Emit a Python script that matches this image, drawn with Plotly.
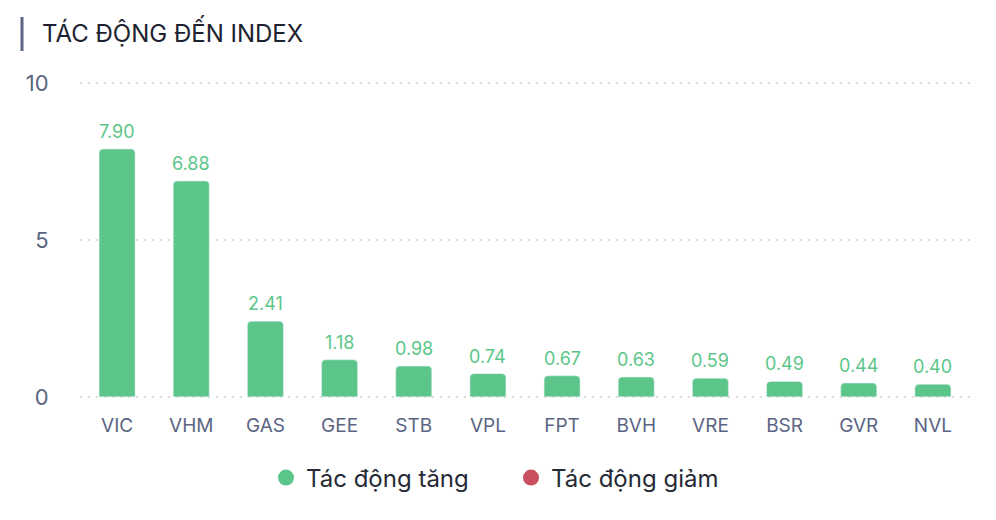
import plotly.graph_objects as go

tickers = ["VIC", "VHM", "GAS", "GEE", "STB", "VPL", "FPT", "BVH", "VRE", "BSR", "GVR", "NVL"]
impact_up = [7.90, 6.88, 2.41, 1.18, 0.98, 0.74, 0.67, 0.63, 0.59, 0.49, 0.44, 0.40]
y_ticks = [0, 5, 10]

GREEN = "#5cc68a"
RED = "#c9505f"
SLATE = "#5b6583"
FONT = "Inter"

# page body has an 8px margin, so the figure is 8px smaller than the window
W, H = 988, 512
L, R, T, B = 72, 26, 72, 120
plot_h = H - T - B
plot_w = W - L - R

fig = go.Figure()
fig.add_trace(
    go.Bar(
        x=tickers,
        y=impact_up,
        name="Tác động tăng",
        marker=dict(color=GREEN, cornerradius=4),
        showlegend=False,
        hoverinfo="x+y",
    )
)

# value labels above each bar
for t, v in zip(tickers, impact_up):
    fig.add_annotation(
        x=t,
        y=v,
        text=f"{v:.2f}",
        showarrow=False,
        yanchor="bottom",
        yshift=5,
        font=dict(family=FONT, size=18, color=GREEN),
    )

# legend entries as circles
fig.add_trace(
    go.Scatter(
        x=[None], y=[None], mode="markers", name="Tác động tăng",
        marker=dict(color=GREEN, size=20, symbol="circle"),
    )
)
fig.add_trace(
    go.Scatter(
        x=[None], y=[None], mode="markers", name="Tác động giảm",
        marker=dict(color=RED, size=20, symbol="circle"),
    )
)

# title accent bar
bar_x = (14 - L) / plot_w
fig.add_shape(
    type="line", xref="paper", yref="paper",
    x0=bar_x, x1=bar_x,
    y0=1 + (T - 9) / plot_h, y1=1 + (T - 43) / plot_h,
    line=dict(color=SLATE, width=3),
)

fig.update_layout(
    width=W,
    height=H,
    margin=dict(l=L, r=R, t=T, b=B, autoexpand=False),
    paper_bgcolor="white",
    plot_bgcolor="white",
    font=dict(family=FONT, color=SLATE),
    title=dict(
        text="TÁC ĐỘNG ĐẾN INDEX",
        x=34 / W, xanchor="left", y=1 - 26 / H, yanchor="middle",
        pad=dict(l=0, t=0, b=0, r=0),
        font=dict(family=FONT, size=24, color="#1e2230"),
    ),
    bargap=0.515,
    showlegend=True,
    legend=dict(
        orientation="h", x=0.5 - 14 / plot_w, xanchor="center",
        y=-(470 - (H - B)) / plot_h, yanchor="middle",
        font=dict(family=FONT, size=24, color="#262a36"),
        traceorder="normal", entrywidth=200,
    ),
    xaxis=dict(
        showgrid=False, showline=False, zeroline=False,
        tickfont=dict(family=FONT, size=19, color=SLATE),
        ticks="outside", ticklen=8, tickcolor="rgba(0,0,0,0)",
    ),
    yaxis=dict(
        range=[-0.1, 10.1], tickvals=y_ticks,
        showgrid=True, gridcolor="#dcdcdc", griddash="2px,6px", gridwidth=2,
        zeroline=False, showline=False,
        tickfont=dict(family=FONT, size=22, color=SLATE),
        ticks="outside", ticklen=26, tickcolor="rgba(0,0,0,0)",
    ),
)

fig.write_html("out.html")
